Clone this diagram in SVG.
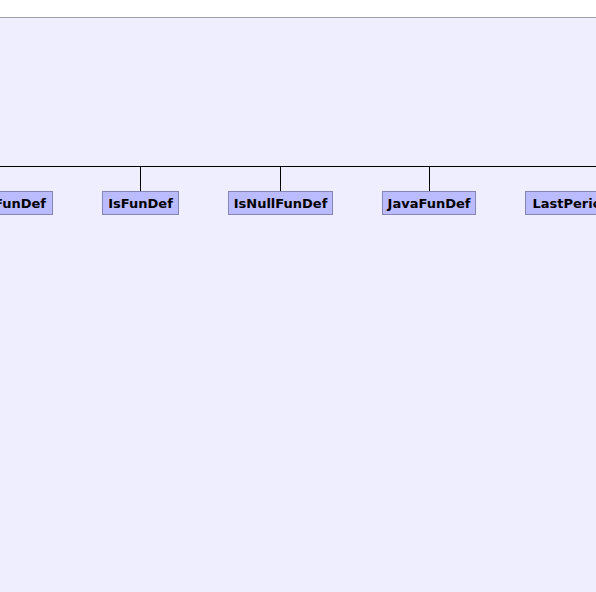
<svg xmlns="http://www.w3.org/2000/svg" width="596" height="592" viewBox="0 0 596 592">
<style>
.node rect{fill:#bbbbff;stroke:#8585b8;stroke-width:1}
.node text{font-family:"DejaVu Sans",sans-serif;font-weight:bold;font-size:13px;fill:#000}
.conn line{stroke:#000;stroke-width:1}
</style>
<rect x="0" y="0" width="596" height="592" fill="#ffffff"/>
<rect x="0" y="17" width="596" height="575" fill="#eeeeff"/>
<line x1="0" y1="17.5" x2="596" y2="17.5" stroke="#a0a0ac" stroke-width="1"/>
<g id="connectors" class="conn">
<line x1="0" y1="166.5" x2="596" y2="166.5"/>
<line x1="140.5" y1="166.5" x2="140.5" y2="191.5"/>
<line x1="280.5" y1="166.5" x2="280.5" y2="191.5"/>
<line x1="429.5" y1="166.5" x2="429.5" y2="191.5"/>
</g>
<g id="node-fundef" class="node">
<rect x="-40.5" y="191.5" width="93" height="23"/>
<text x="46" y="208" text-anchor="end">FunDef</text>
</g>
<g id="node-isfundef" class="node">
<rect x="102.5" y="191.5" width="76" height="23"/>
<text x="140.5" y="208" text-anchor="middle">IsFunDef</text>
</g>
<g id="node-isnullfundef" class="node">
<rect x="228.5" y="191.5" width="104" height="23"/>
<text x="280.5" y="208" text-anchor="middle">IsNullFunDef</text>
</g>
<g id="node-javafundef" class="node">
<rect x="382.5" y="191.5" width="93" height="23"/>
<text x="429" y="208" text-anchor="middle">JavaFunDef</text>
</g>
<g id="node-lastperiod" class="node">
<rect x="525.5" y="191.5" width="93" height="23"/>
<text x="532.5" y="208">LastPeriod</text>
</g>
</svg>
